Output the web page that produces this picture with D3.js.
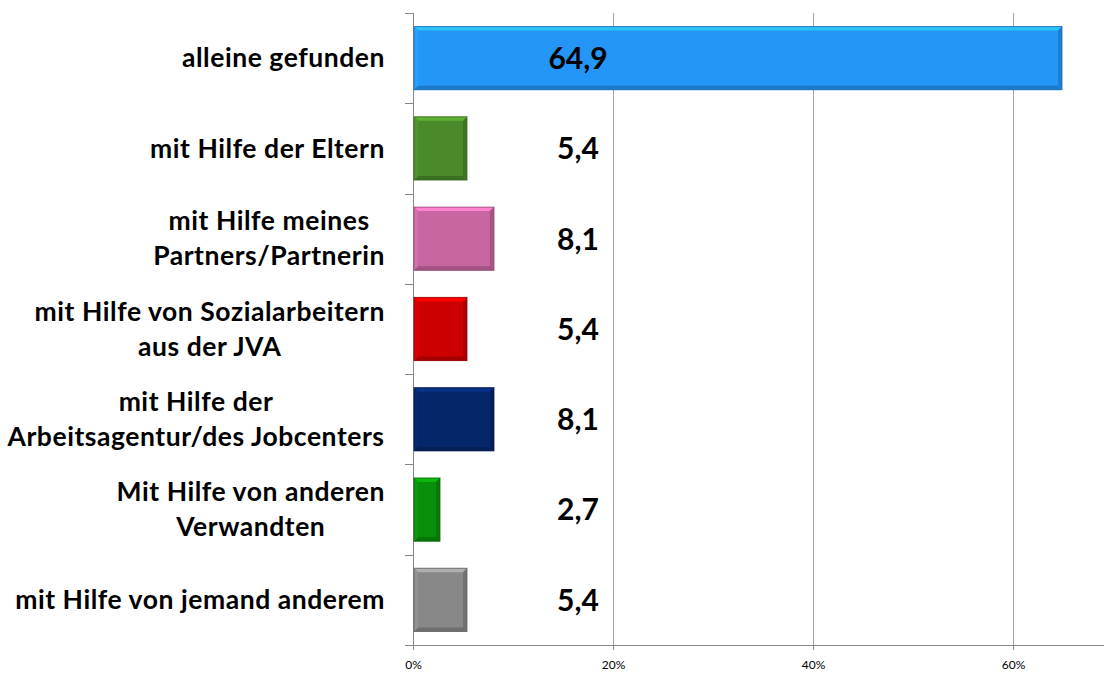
<!DOCTYPE html>
<html><head><meta charset="utf-8">
<script src="https://cdn.jsdelivr.net/npm/d3@7"></script>
<style>body{margin:0;background:#fff}</style>
</head><body>
<svg id="c" width="1104" height="675"></svg>
<script>
const categories = [
  ["alleine gefunden"],
  ["mit Hilfe der Eltern"],
  ["mit Hilfe meines", "Partners/Partnerin"],
  ["mit Hilfe von Sozialarbeitern", "aus der JVA"],
  ["mit Hilfe der", "Arbeitsagentur/des Jobcenters"],
  ["Mit Hilfe von anderen", "Verwandten"],
  ["mit Hilfe von jemand anderem"]
];
const values = [64.9, 5.4, 8.1, 5.4, 8.1, 2.7, 5.4];
const valueLabels = ["64,9", "5,4", "8,1", "5,4", "8,1", "2,7", "5,4"];
const colors = ["#2396F7", "#4A8A2A", "#C866A2", "#CC0000", "#06266A", "#0A8F0A", "#888888"];
const tickValues = [0, 20, 40, 60];
const tickLabels = ["0%", "20%", "40%", "60%"];

(function(){
const svg = d3.select("#c");
const pLeft = 413, pTop = 13, pBottom = 645;
const x = d3.scaleLinear().domain([0, 70]).range([pLeft, pLeft + 700]);
const y = d3.scaleBand().domain(d3.range(categories.length)).range([pTop, pBottom]).paddingInner(0.3).paddingOuter(0.15);

// gridlines
svg.append("g").selectAll("line").data(tickValues.filter(d => d > 0)).join("line")
  .attr("x1", d => Math.round(x(d)) + 0.5).attr("x2", d => Math.round(x(d)) + 0.5).attr("y1", pTop).attr("y2", pBottom)
  .attr("stroke", "#a6a6a6").attr("stroke-width", 1);

// x axis
const xa = svg.append("g").attr("transform", `translate(0,${pBottom})`)
  .call(d3.axisBottom(x).tickValues(tickValues).tickFormat((d, i) => tickLabels[i]).tickSize(5).tickPadding(10));
xa.select(".domain").attr("d", `M${pLeft},0.5H1104`).attr("stroke", "#868686");
xa.selectAll(".tick line").attr("stroke", "#868686");
xa.selectAll(".tick text").attr("font-family", "Lato, sans-serif").attr("font-size", 12).attr("fill", "#000");

// y axis line with boundary ticks
const bounds = d3.range(categories.length + 1).map(i => pTop + i * (pBottom - pTop) / categories.length);
svg.append("line").attr("x1", pLeft + 0.5).attr("x2", pLeft + 0.5).attr("y1", pTop).attr("y2", pBottom)
  .attr("stroke", "#868686");
svg.append("g").selectAll("line").data(bounds).join("line")
  .attr("x1", pLeft - 8).attr("x2", pLeft).attr("y1", d => Math.round(d) + 0.5).attr("y2", d => Math.round(d) + 0.5)
  .attr("stroke", "#868686");

// bars with bevel
const bars = svg.append("g").selectAll("g").data(values).join("g");
bars.each(function(v, i) {
  const g = d3.select(this);
  const x0 = x(0) + 1, x1 = x(v), y0 = y(i), y1 = y(i) + y.bandwidth();
  const c = d3.color(colors[i]);
  const b = 4;
  g.append("rect").attr("x", x0).attr("y", y0).attr("width", x1 - x0).attr("height", y1 - y0).attr("fill", c);
  g.append("polygon").attr("points", [[x0, y0], [x1, y0], [x1 - b, y0 + b], [x0 + b, y0 + b]].join(" "))
    .attr("fill", c.brighter(0.7));
  g.append("polygon").attr("points", [[x1, y0], [x1, y1], [x1 - b, y1 - b], [x1 - b, y0 + b]].join(" "))
    .attr("fill", c.darker(0.5));
  g.append("polygon").attr("points", [[x0, y1], [x1, y1], [x1 - b, y1 - b], [x0 + b, y1 - b]].join(" "))
    .attr("fill", c.darker(0.6));
  g.append("polygon").attr("points", [[x0, y0], [x0 + b, y0 + b], [x0 + b, y1 - b], [x0, y1]].join(" "))
    .attr("fill", c.brighter(0.2));
  g.append("rect").attr("x", x0).attr("y", y0).attr("width", x1 - x0).attr("height", y1 - y0)
    .attr("fill", "none").attr("stroke", c.darker(0.9)).attr("stroke-width", 1).attr("stroke-opacity", 0.8);
});

// value labels
svg.append("g").selectAll("text").data(values).join("text")
  .attr("x", x(16.5)).attr("y", (d, i) => y(i) + y.bandwidth() / 2)
  .attr("dy", "0.36em").attr("text-anchor", "middle")
  .attr("font-family", "Lato, sans-serif").attr("font-weight", "bold").attr("font-size", 30)
  .attr("fill", "#000").text((d, i) => valueLabels[i]);

// category labels
const lh = 35;
const lab = svg.append("g").selectAll("text").data(categories).join("text")
  .attr("font-family", "Lato, sans-serif").attr("font-weight", "bold").attr("font-size", 26.5)
  .attr("letter-spacing", 0.55)
  .attr("fill", "#000").attr("text-anchor", "middle");
lab.each(function(lines, i) {
  const t = d3.select(this);
  const cy = y(i) + y.bandwidth() / 2;
  const n = lines.length;
  lines.forEach((l, k) => {
    t.append("tspan").attr("x", 0).attr("y", cy + (k - (n - 1) / 2) * lh).attr("dy", "0.35em").text(l);
  });
  const w = this.getBBox().width;
  t.selectAll("tspan").attr("x", 385 - w / 2);
});
})();
</script>
</body></html>
